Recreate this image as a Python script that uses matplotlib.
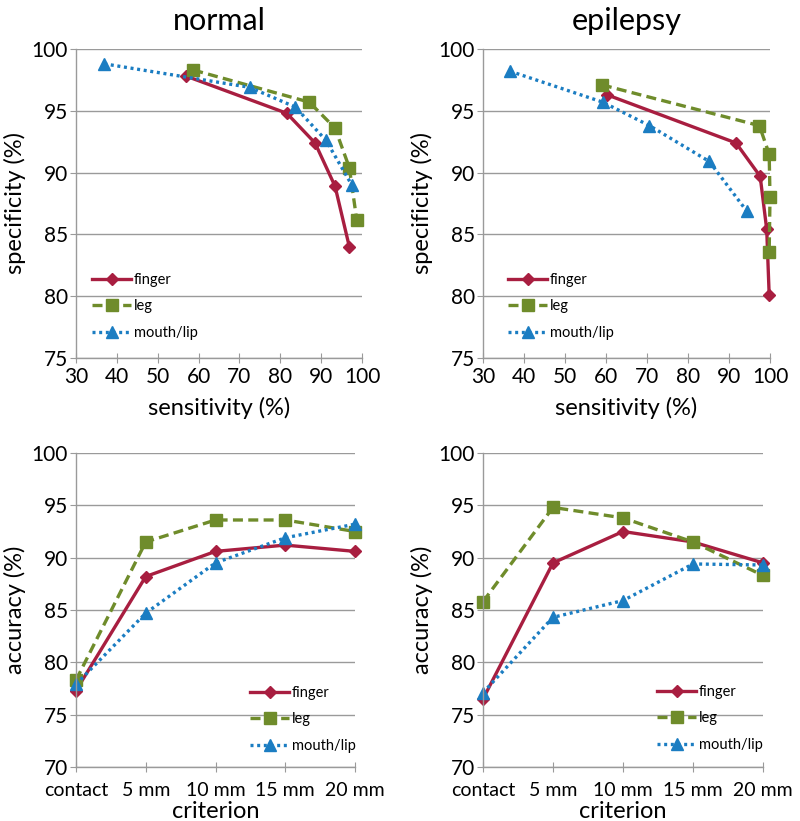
import matplotlib
matplotlib.use("Agg")
import matplotlib.pyplot as plt

# ROC-like curves: sensitivity (x) vs specificity (y)
normal_finger_sens = [57.0, 81.6, 88.5, 93.4, 96.9]
normal_finger_spec = [97.8, 94.8, 92.4, 88.9, 84.0]
normal_leg_sens = [58.7, 87.1, 93.4, 96.9, 98.7]
normal_leg_spec = [98.3, 95.7, 93.6, 90.4, 86.2]
normal_mouth_sens = [36.9, 72.5, 83.7, 91.2, 97.5]
normal_mouth_spec = [98.8, 96.9, 95.3, 92.6, 89.0]

epi_finger_sens = [60.2, 91.7, 97.6, 99.2, 99.8]
epi_finger_spec = [96.3, 92.4, 89.7, 85.4, 80.1]
epi_leg_sens = [59.0, 97.4, 99.8, 100.0, 99.8]
epi_leg_spec = [97.1, 93.8, 91.5, 88.0, 83.6]
epi_mouth_sens = [36.6, 59.2, 70.6, 85.2, 94.3]
epi_mouth_spec = [98.2, 95.7, 93.8, 90.9, 86.9]

# accuracy per criterion
criteria = ["contact", "5 mm", "10 mm", "15 mm", "20 mm"]
normal_finger_acc = [77.3, 88.2, 90.6, 91.2, 90.6]
normal_leg_acc = [78.3, 91.5, 93.6, 93.6, 92.5]
normal_mouth_acc = [77.9, 84.7, 89.5, 91.9, 93.2]
epi_finger_acc = [76.5, 89.5, 92.5, 91.5, 89.5]
epi_leg_acc = [85.8, 94.8, 93.8, 91.5, 88.3]
epi_mouth_acc = [77.1, 84.3, 85.9, 89.4, 89.3]

series = ["finger", "leg", "mouth/lip"]

plt.rcParams['font.family'] = ['Lato', 'DejaVu Sans']

colors = {"finger": "#A81E40", "leg": "#6F8C2B", "mouth/lip": "#1B7DC2"}
styles = {
    "finger": dict(linestyle="-", marker="D", markersize=6.5),
    "leg": dict(linestyle=(0, (3, 1.6)), marker="s", markersize=8.5),
    "mouth/lip": dict(linestyle=(0, (0.9, 1.1)), marker="^", markersize=9),
}
grid_col = "#9A9A9A"

fig = plt.figure(figsize=(8, 8.21), dpi=100)

axes_rect = {
    "tl": [76 / 800, 1 - 358 / 821, 286 / 800, 309 / 821],
    "tr": [483 / 800, 1 - 358 / 821, 287 / 800, 309 / 821],
    "bl": [76 / 800, 1 - 767 / 821, 279 / 800, 314 / 821],
    "br": [483 / 800, 1 - 767 / 821, 280 / 800, 314 / 821],
}
legend_anchor = {
    "tl": (92 / 800, 1 - 273 / 821),
    "tr": (508 / 800, 1 - 273 / 821),
    "bl": (250 / 800, 1 - 686 / 821),
    "br": (657 / 800, 1 - 685 / 821),
}


def style_axes(ax):
    for s in ["top", "right"]:
        ax.spines[s].set_visible(False)
    for s in ["left", "bottom"]:
        ax.spines[s].set_color(grid_col)
        ax.spines[s].set_linewidth(1.0)
    ax.yaxis.grid(True, color=grid_col, linewidth=1.0)
    ax.set_axisbelow(True)
    ax.tick_params(axis="y", direction="out", length=4, color=grid_col,
                   labelsize=15, pad=2)
    ax.tick_params(axis="x", direction="inout", length=7, color=grid_col,
                   labelsize=15, pad=3)


def add_legend(ax, key, handles):
    ax.legend(handles, series, loc="upper left",
              bbox_to_anchor=legend_anchor[key], bbox_transform=fig.transFigure,
              frameon=False, fontsize=10.5, handlelength=2.7,
              handletextpad=0.15, labelspacing=0.85, borderpad=0,
              borderaxespad=0)


def roc_panel(key, title, data):
    ax = fig.add_axes(axes_rect[key])
    style_axes(ax)
    handles = []
    for name, (xs, ys) in zip(series, data):
        h, = ax.plot(xs, ys, color=colors[name], linewidth=2.4,
                     clip_on=False, **styles[name])
        handles.append(h)
    ax.set_xlim(30, 100)
    ax.set_ylim(75, 100)
    ax.set_xticks(range(30, 101, 10))
    ax.set_yticks(range(75, 101, 5))
    ax.set_xlabel("sensitivity (%)", fontsize=17, labelpad=7)
    ax.set_ylabel("specificity (%)", fontsize=17, labelpad=4)
    ax.set_title(title, fontsize=22, pad=14)
    add_legend(ax, key, handles)


def acc_panel(key, data):
    ax = fig.add_axes(axes_rect[key])
    style_axes(ax)
    pos = list(range(len(criteria)))
    handles = []
    for name, ys in zip(series, data):
        h, = ax.plot(pos, ys, color=colors[name], linewidth=2.4,
                     clip_on=False, **styles[name])
        handles.append(h)
    ax.set_xlim(0, len(criteria) - 1)
    ax.set_ylim(70, 100)
    ax.set_xticks(pos)
    ax.set_xticklabels(criteria)
    ax.tick_params(axis="x", labelsize=14, pad=7)
    ax.set_yticks(range(70, 101, 5))
    ax.set_xlabel("criterion", fontsize=17, labelpad=2)
    ax.set_ylabel("accuracy (%)", fontsize=17, labelpad=4)
    add_legend(ax, key, handles)


roc_panel("tl", "normal", [(normal_finger_sens, normal_finger_spec),
                           (normal_leg_sens, normal_leg_spec),
                           (normal_mouth_sens, normal_mouth_spec)])
roc_panel("tr", "epilepsy", [(epi_finger_sens, epi_finger_spec),
                             (epi_leg_sens, epi_leg_spec),
                             (epi_mouth_sens, epi_mouth_spec)])
acc_panel("bl", [normal_finger_acc, normal_leg_acc, normal_mouth_acc])
acc_panel("br", [epi_finger_acc, epi_leg_acc, epi_mouth_acc])

fig.savefig("out.png", dpi=100)
